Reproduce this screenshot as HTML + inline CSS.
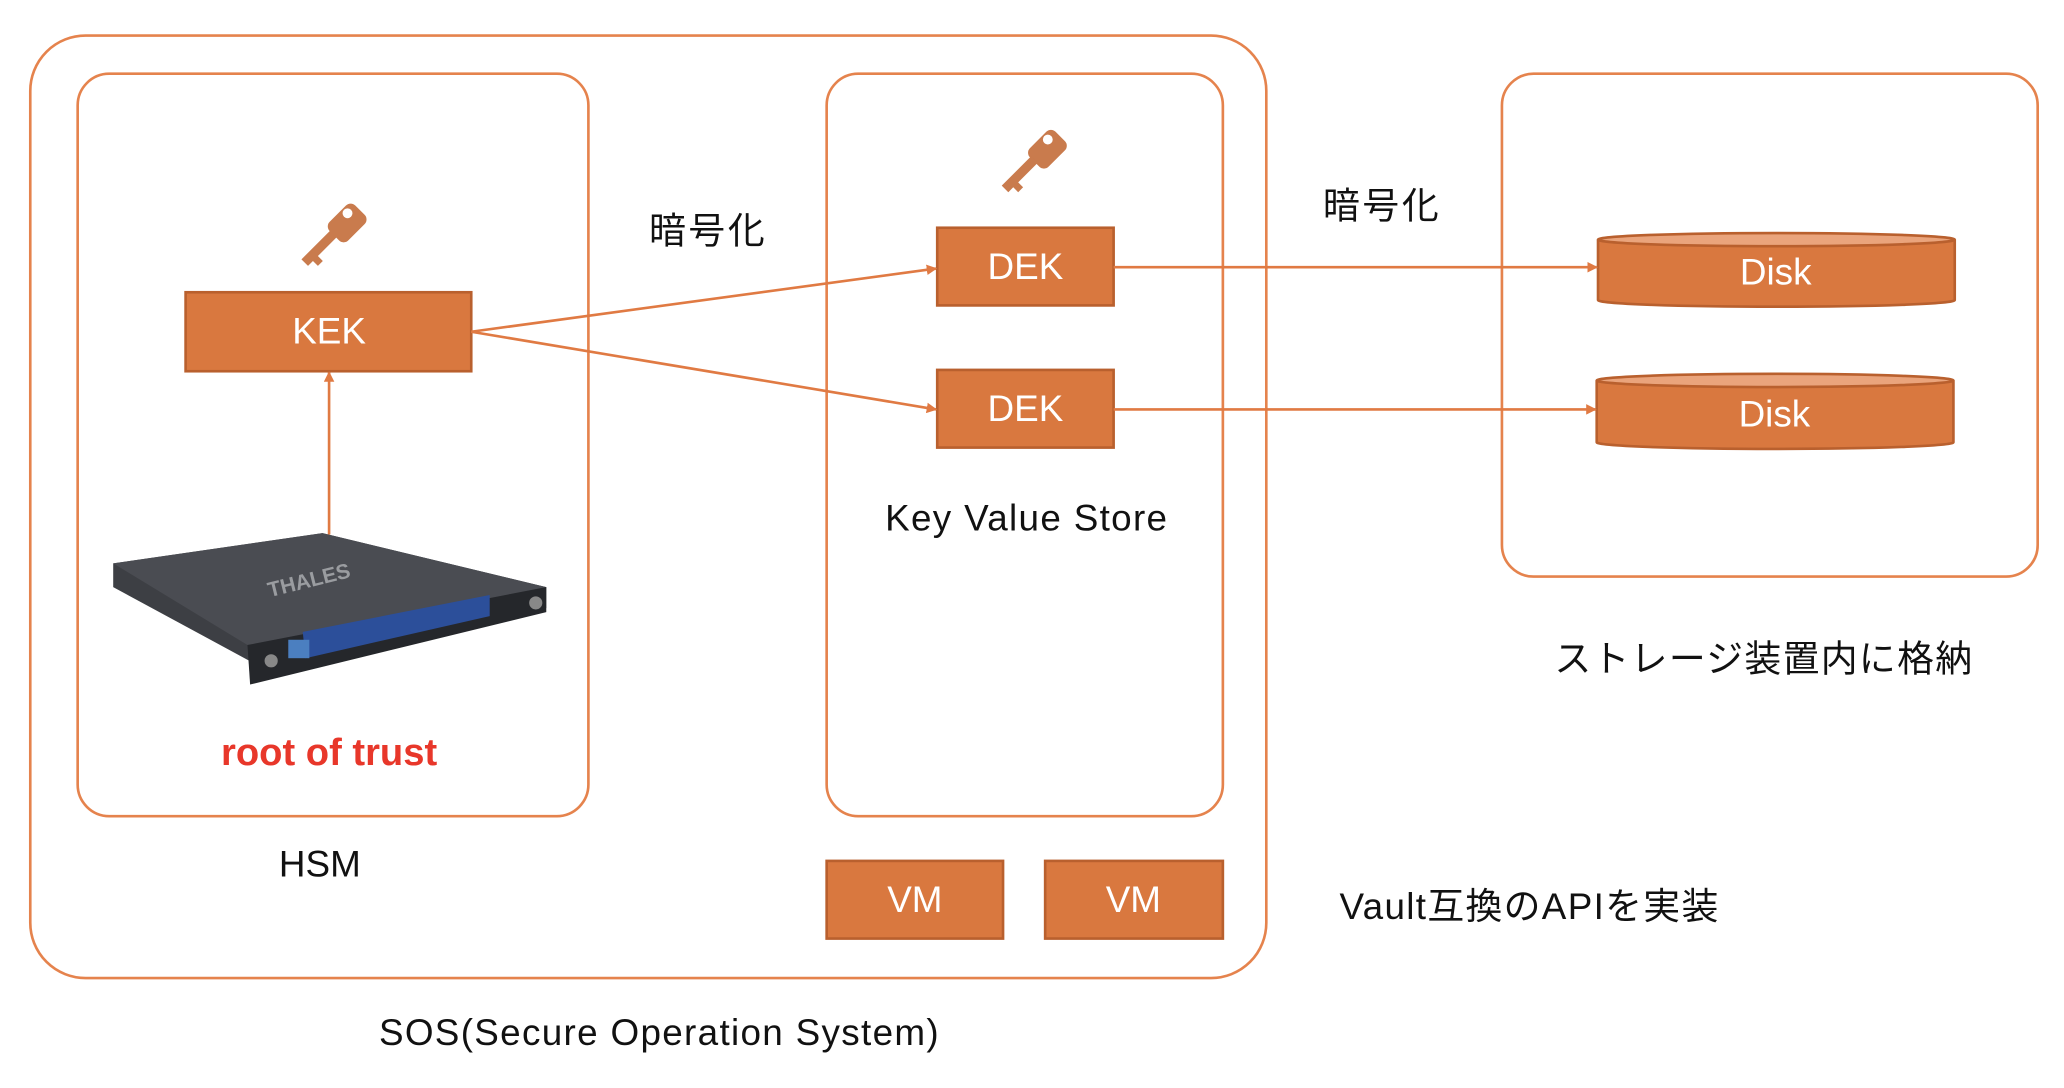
<!DOCTYPE html>
<html><head><meta charset="utf-8"><style>
html,body{margin:0;padding:0;background:#fff;width:2064px;height:1088px;overflow:hidden}
text{font-family:"Liberation Sans","Noto Sans CJK JP",sans-serif}
</style></head><body>
<svg width="2064" height="1088" viewBox="0 0 1568 826.5" xmlns="http://www.w3.org/2000/svg">
<defs>
<marker id="ah" markerWidth="8" markerHeight="8" refX="7" refY="4" orient="auto" markerUnits="userSpaceOnUse">
<path d="M0,0 L8,4 L0,8 z" fill="#e07a43"/></marker>
<g id="key">
<rect x="-4" y="-4" width="22" height="16" rx="4" transform="rotate(-45)" fill="#c97b4d"/>
<circle cx="8" cy="-8" r="3" fill="#fff"/>
<path d="M-2,2 L-20,20 L-16,24 L-13,21 L-10,24 L-7,21 L-10,18 L2,6 z" fill="#c97b4d"/>
</g>
</defs>
<g fill="none" stroke="#e5834d" stroke-width="2">
<rect x="23" y="27" width="939" height="716" rx="42"/>
<rect x="59" y="56" width="388" height="564" rx="24"/>
<rect x="628" y="56" width="301" height="564" rx="24"/>
<rect x="1141" y="56" width="407" height="382" rx="24"/>
</g>
<g fill="#d9783f" stroke="#b9602e" stroke-width="2">
<rect x="141" y="222" width="217" height="60"/>
<rect x="712" y="173" width="134" height="59"/>
<rect x="712" y="281" width="134" height="59"/>
<rect x="628" y="654" width="134" height="59"/>
<rect x="794" y="654" width="135" height="59"/>
<path d="M1214,182 L1214,228 A135.5,5 0 0 0 1485,228 L1485,182"/>
<ellipse cx="1349.5" cy="182" rx="135.5" ry="5" fill="#eaa47c"/>
<path d="M1213,289 L1213,336 A135.5,5 0 0 0 1484,336 L1484,289"/>
<ellipse cx="1348.5" cy="289" rx="135.5" ry="5" fill="#eaa47c"/>
</g>
<g stroke="#e07a43" stroke-width="2" fill="none" marker-end="url(#ah)">
<line x1="358" y1="252" x2="711" y2="204"/>
<line x1="358" y1="252" x2="711" y2="311"/>
<line x1="846" y1="203" x2="1213" y2="203"/>
<line x1="846" y1="311" x2="1212" y2="311"/>
<line x1="250" y1="406" x2="250" y2="283"/>
</g>
<use href="#key" transform="translate(254,172) scale(1.25)"/>
<use href="#key" transform="translate(786,116) scale(1.25)"/>
<!-- server -->
<polygon points="86,428 245,405 415,446 415,462 195,505 86,446" fill="#3d3f44"/>
<polygon points="86,428 245,405 415,446 188,490" fill="#4a4c52"/>
<polygon points="188,490 415,446 415,465 190,520" fill="#25272b"/>
<polygon points="230,480 372,452 372,468 232,500" fill="#2c4f9a"/>
<rect x="219" y="486" width="16" height="14" fill="#4b7fc0"/>
<circle cx="206" cy="502" r="5" fill="#888"/><circle cx="407" cy="458" r="5" fill="#888"/>
<text x="236" y="446" font-size="16" fill="#9a9ca0" font-weight="bold" transform="rotate(-14 236 446)" text-anchor="middle">THALES</text>
<g fill="#fff" font-size="28" text-anchor="middle">
<text x="250" y="261">KEK</text>
<text x="779" y="212">DEK</text>
<text x="779" y="320">DEK</text>
<text x="695" y="693">VM</text>
<text x="861" y="693">VM</text>
<text x="1349" y="216">Disk</text>
<text x="1348" y="324">Disk</text>
</g>
<g fill="#111" font-size="28" text-anchor="middle">
<text x="538" y="185" letter-spacing="2">暗号化</text>
<text x="1050" y="166" letter-spacing="2">暗号化</text>
<text x="780" y="403" letter-spacing="1">Key Value Store</text>
<text x="1340" y="510" letter-spacing="1">ストレージ装置内に格納</text>
<text x="1162" y="698" letter-spacing="1">Vault互換のAPIを実装</text>
<text x="243" y="666">HSM</text>
<text x="501" y="794" letter-spacing="1">SOS(Secure Operation System)</text>
</g>
<text x="250" y="581" font-size="29" font-weight="bold" fill="#e8372a" text-anchor="middle">root of trust</text>
</svg>
</body></html>
